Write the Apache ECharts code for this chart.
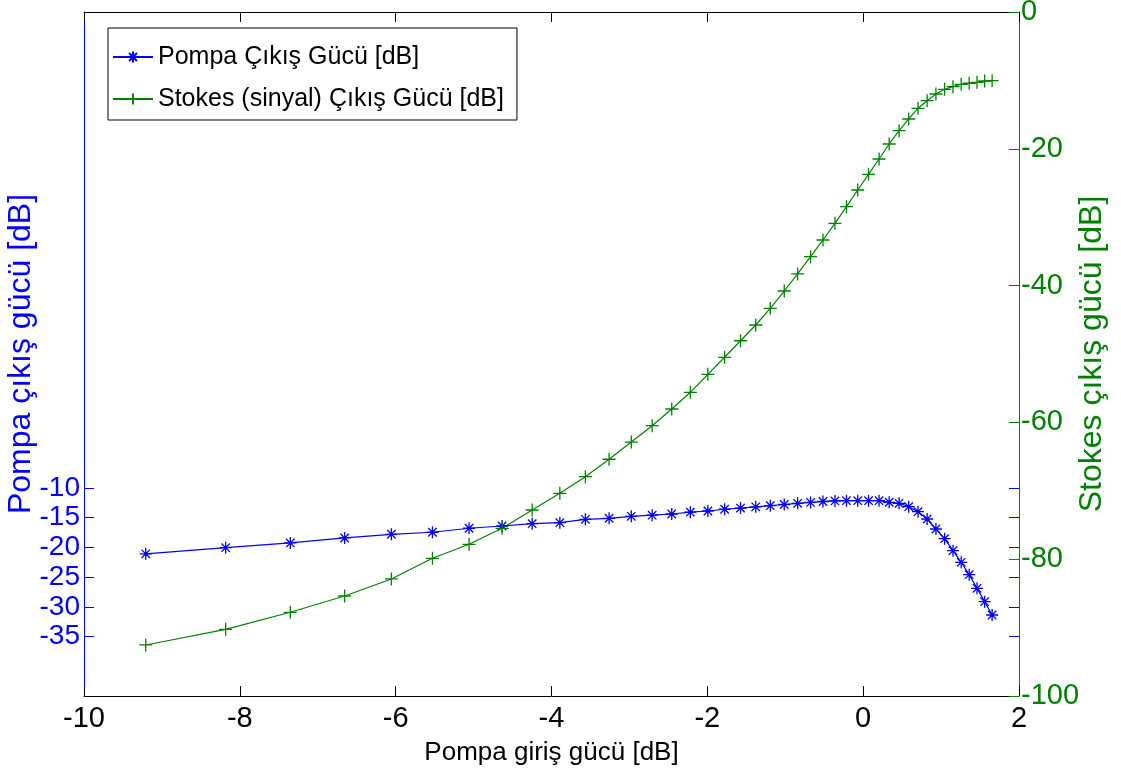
<!DOCTYPE html>
<html>
<head>
<meta charset="utf-8">
<script src="https://cdn.jsdelivr.net/npm/echarts@6/dist/echarts.min.js"></script>
<style>
html,body{margin:0;padding:0;background:#fff;}
#chart{width:1121px;height:776px;}
</style>
</head>
<body>
<div id="chart"></div>
<script>
// Pump input power [dB] (x positions of the markers)
const pumpInputDb = [-9.208,-8.182,-7.352,-6.655,-6.055,-5.528,-5.058,-4.634,-4.248,-3.893,-3.565,-3.261,-2.976,-2.708,-2.457,-2.218,-1.993,-1.778,-1.574,-1.379,-1.192,-1.013,-0.841,-0.675,-0.516,-0.362,-0.214,-0.070,0.069,0.204,0.334,0.461,0.584,0.704,0.821,0.934,1.045,1.153,1.258,1.361,1.461,1.559,1.655];
// Pump output power [dB] (left axis)
const pumpOutputDb = [-21.1,-20.06,-19.27,-18.43,-17.81,-17.47,-16.80,-16.42,-16.03,-15.86,-15.29,-15.12,-14.79,-14.6,-14.4,-14.1,-13.9,-13.6,-13.4,-13.2,-13.0,-12.8,-12.6,-12.45,-12.3,-12.2,-12.16,-12.16,-12.16,-12.16,-12.43,-12.60,-13.17,-14.01,-15.24,-16.92,-18.55,-20.57,-22.52,-24.60,-26.89,-29.14,-31.38];
// Stokes (signal) output power [dB] (right axis)
const stokesOutputDb = [-92.54,-90.25,-87.76,-85.38,-82.89,-79.87,-77.82,-75.48,-72.81,-70.37,-67.94,-65.39,-62.87,-60.48,-58.04,-55.60,-52.97,-50.48,-48.06,-45.76,-43.32,-40.79,-38.30,-35.77,-33.33,-30.89,-28.46,-26.02,-23.73,-21.49,-19.30,-17.35,-15.64,-14.08,-12.97,-11.99,-11.30,-10.92,-10.57,-10.42,-10.28,-10.09,-10.04];
// Tick labels shown on the left axis
const leftTickValues = [-35,-30,-25,-20,-15,-10];
const seriesNames = ['Pompa Çıkış Gücü [dB]', 'Stokes (sinyal) Çıkış Gücü [dB]'];

const FONT = 'Liberation Sans, Arial, sans-serif';
const BLUE = '#0000ff';
const GREEN = '#008000';

const chart = echarts.init(document.getElementById('chart'), null, {renderer: 'canvas'});
const starPath = 'path://M0,-1L0,1M-1,0L1,0M-0.7,-0.7L0.7,0.7M-0.7,0.7L0.7,-0.7';
const plusPath = 'path://M0,-1L0,1M-1,0L1,0';

const option = {
  animation: false,
  backgroundColor: '#fff',
  textStyle: {fontFamily: FONT},
  grid: {left: 84, right: 102, top: 12, bottom: 80, containLabel: false, outerBoundsMode: 'none'},
  legend: {
    orient: 'vertical',
    left: 108, top: 28,
    padding: [14, 13, 6, 4],
    itemGap: 12,
    itemWidth: 40, itemHeight: 14,
    borderColor: '#000', borderWidth: 1, backgroundColor: '#fff',
    textStyle: {color: '#000', fontSize: 25, fontFamily: FONT, lineHeight: 30},
    data: seriesNames
  },
  xAxis: [{
    type: 'value', min: -10, max: 2, interval: 2, position: 'bottom',
    name: 'Pompa giriş gücü [dB]', nameLocation: 'middle', nameGap: 44, nameMoveOverlap: false,
    nameTextStyle: {color: '#000', fontSize: 26, fontFamily: FONT},
    axisLine: {show: true, onZero: false, lineStyle: {color: '#000', width: 1}},
    axisTick: {show: true, inside: true, length: 10, lineStyle: {color: '#000'}},
    axisLabel: {color: '#000', fontSize: 29, margin: 8, fontFamily: FONT},
    splitLine: {show: false}
  }, {
    type: 'value', min: -10, max: 2, interval: 2, position: 'top',
    axisLine: {show: true, onZero: false, lineStyle: {color: '#000', width: 1}},
    axisTick: {show: true, inside: true, length: 10, lineStyle: {color: '#000'}},
    axisLabel: {show: false},
    splitLine: {show: false}
  }],
  yAxis: [{
    type: 'value', min: -45, max: 70, interval: 5, position: 'left',
    name: 'Pompa çıkış gücü [dB]', nameLocation: 'middle', nameGap: 47, nameRotate: 90, nameMoveOverlap: false,
    nameTextStyle: {color: BLUE, fontSize: 32, fontFamily: FONT},
    axisLine: {show: true, onZero: false, lineStyle: {color: BLUE, width: 1}},
    axisTick: {show: true, inside: true, length: 10, customValues: leftTickValues, lineStyle: {color: BLUE}},
    axisLabel: {color: BLUE, fontSize: 28, margin: 4, customValues: leftTickValues, fontFamily: FONT},
    splitLine: {show: false}
  }, {
    type: 'value', min: -100, max: 0, interval: 20, position: 'right',
    name: 'Stokes çıkış gücü [dB]', nameLocation: 'middle', nameGap: 57, nameRotate: 90, nameMoveOverlap: false,
    nameTextStyle: {color: GREEN, fontSize: 32, fontFamily: FONT},
    axisLine: {show: true, onZero: false, lineStyle: {color: GREEN, width: 1}},
    axisTick: {show: true, inside: true, length: 10, lineStyle: {color: GREEN}},
    axisLabel: {color: GREEN, fontSize: 29, margin: 2, fontFamily: FONT},
    splitLine: {show: false}
  }, {
    type: 'value', min: -45, max: 70, interval: 5, position: 'right',
    axisLine: {show: false, onZero: false},
    axisTick: {show: true, inside: true, length: 10, customValues: leftTickValues, lineStyle: {color: BLUE}},
    axisLabel: {show: false},
    splitLine: {show: false}
  }],
  series: [{
    name: seriesNames[0], type: 'line', xAxisIndex: 0, yAxisIndex: 0,
    data: pumpInputDb.map((x, i) => [x, pumpOutputDb[i]]),
    symbol: starPath, symbolSize: 12, showSymbol: true,
    lineStyle: {color: BLUE, width: 1.2},
    itemStyle: {color: BLUE, borderColor: BLUE, borderWidth: 1.3},
    emphasis: {disabled: true}
  }, {
    name: seriesNames[1], type: 'line', xAxisIndex: 0, yAxisIndex: 1,
    data: pumpInputDb.map((x, i) => [x, stokesOutputDb[i]]),
    symbol: plusPath, symbolSize: 13, showSymbol: true,
    lineStyle: {color: GREEN, width: 1.2},
    itemStyle: {color: GREEN, borderColor: GREEN, borderWidth: 1.3},
    emphasis: {disabled: true}
  }]
};
chart.setOption(option);
</script>
</body>
</html>
